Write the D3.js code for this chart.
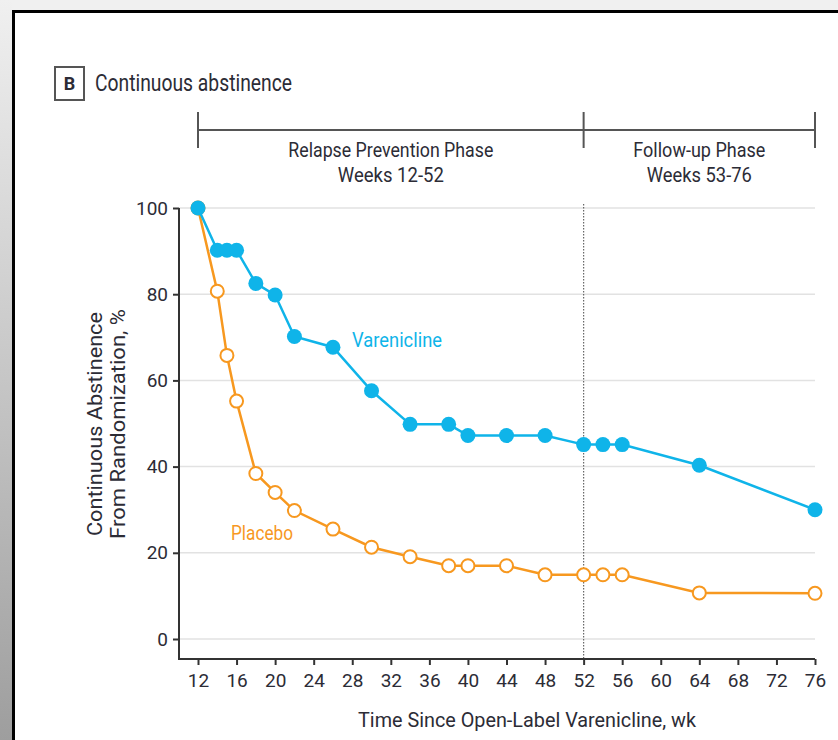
<!DOCTYPE html>
<html>
<head>
<meta charset="utf-8">
<script src="https://cdn.jsdelivr.net/npm/d3@7"></script>
<style>
  html, body { margin: 0; padding: 0; background: #fff; }
  svg { display: block; }
  text { font-family: Roboto, "Liberation Sans", sans-serif; fill: #2c2c36; }
</style>
</head>
<body>
<svg id="chart" width="838" height="740"></svg>
<script>
// Weeks since open-label varenicline
const weeks = [12, 14, 15, 16, 18, 20, 22, 26, 30, 34, 38, 40, 44, 48, 52, 54, 56, 64, 76];
// Continuous abstinence from randomization, %
const vareniclineValues = [100, 90.2, 90.2, 90.2, 82.5, 79.8, 70.2, 67.7, 57.6, 49.8, 49.8, 47.2, 47.2, 47.2, 45.1, 45.1, 45.1, 40.3, 30];
const placeboValues = [100, 80.7, 65.8, 55.2, 38.4, 34, 29.8, 25.5, 21.3, 19.1, 17, 17, 17, 14.9, 14.9, 14.9, 14.9, 10.7, 10.6];
const xTicks = [12, 16, 20, 24, 28, 32, 36, 40, 44, 48, 52, 56, 60, 64, 68, 72, 76];
const yTicks = [0, 20, 40, 60, 80, 100];
const phases = [
  { start: 12, end: 52, name: "Relapse Prevention Phase", weeks: "Weeks 12-52", nameLen: 205, weeksLen: 106 },
  { start: 52, end: 76, name: "Follow-up Phase", weeks: "Weeks 53-76", nameLen: 132, weeksLen: 105 }
];

const BLUE = "#0fb4e9";
const ORANGE = "#f7981f";

const svg = d3.select("#chart");
const W = 838, H = 740;

// Condensed text: squeeze a label into a given width
function fit(sel, len) {
  return sel.attr("textLength", len).attr("lengthAdjust", "spacingAndGlyphs");
}

// Page frame
const defs = svg.append("defs");
const grad = defs.append("linearGradient").attr("id", "edge").attr("x1", 0).attr("y1", 0).attr("x2", 0).attr("y2", 1);
grad.append("stop").attr("offset", "0%").attr("stop-color", "#f0f0f0");
grad.append("stop").attr("offset", "100%").attr("stop-color", "#9e9e9e");
svg.append("rect").attr("x", 0).attr("y", 0).attr("width", W).attr("height", 10).attr("fill", "#f0f0f0");
svg.append("rect").attr("x", 0).attr("y", 0).attr("width", 12).attr("height", H).attr("fill", "url(#edge)");
svg.append("line").attr("x1", 12).attr("x2", W).attr("y1", 11.5).attr("y2", 11.5).attr("stroke", "#000").attr("stroke-width", 3);
svg.append("line").attr("x1", 13.5).attr("x2", 13.5).attr("y1", 10).attr("y2", H).attr("stroke", "#000").attr("stroke-width", 3);

// Panel title
svg.append("rect").attr("x", 55).attr("y", 67).attr("width", 29).attr("height", 33)
  .attr("fill", "#fff").attr("stroke", "#555").attr("stroke-width", 2);
svg.append("text").attr("x", 69.5).attr("y", 90).attr("text-anchor", "middle")
  .attr("font-size", 18).attr("font-weight", "bold").text("B");
fit(svg.append("text").attr("x", 95).attr("y", 91).attr("font-size", 23).text("Continuous abstinence"), 197);

// Scales
const x = d3.scaleLinear().domain([12, 76]).range([198, 815]);
const y = d3.scaleLinear().domain([0, 100]).range([639, 208]);
const axisY = 659, axisX = 179;

// Gridlines
svg.append("g").selectAll("line").data(yTicks).join("line")
  .attr("x1", axisX).attr("x2", x(76))
  .attr("y1", d => y(d)).attr("y2", d => y(d))
  .attr("stroke", "#e2e2e2").attr("stroke-width", 1.5);

// Phase boundary
svg.append("line").attr("x1", x(52)).attr("x2", x(52)).attr("y1", y(100) - 4).attr("y2", axisY)
  .attr("stroke", "#666").attr("stroke-width", 1.2).attr("stroke-dasharray", "1.5,1.5");

// Phase bracket
const bracketY = 130;
svg.append("line").attr("x1", x(12)).attr("x2", x(76)).attr("y1", bracketY).attr("y2", bracketY)
  .attr("stroke", "#555").attr("stroke-width", 2);
const bounds = [12, 52, 76];
svg.append("g").selectAll("line").data(bounds).join("line")
  .attr("x1", d => x(d)).attr("x2", d => x(d)).attr("y1", 112).attr("y2", 148)
  .attr("stroke", "#555").attr("stroke-width", 2);
phases.forEach(p => {
  const cx = (x(p.start) + x(p.end)) / 2;
  fit(svg.append("text").attr("x", cx).attr("y", 157).attr("text-anchor", "middle").attr("font-size", 20).text(p.name), p.nameLen);
  fit(svg.append("text").attr("x", cx).attr("y", 182).attr("text-anchor", "middle").attr("font-size", 20).text(p.weeks), p.weeksLen);
});

// Axes
const yAxis = d3.axisLeft(y).tickValues(yTicks).tickSize(6).tickPadding(5);
const gy = svg.append("g").attr("transform", `translate(${axisX},0)`).call(yAxis);
gy.select(".domain").remove();
const xAxis = d3.axisBottom(x).tickValues(xTicks).tickSize(6).tickPadding(9);
const gx = svg.append("g").attr("transform", `translate(0,${axisY})`).call(xAxis);
gx.select(".domain").remove();
[gx, gy].forEach(g => {
  g.selectAll(".tick line").attr("stroke", "#333").attr("stroke-width", 2);
  g.selectAll(".tick text").attr("font-size", 19).attr("fill", "#2c2c36")
    .attr("font-family", "Roboto, \"Liberation Sans\", sans-serif");
});
svg.append("path").attr("d", `M${axisX},${y(100)}V${axisY}H${x(76)}`)
  .attr("fill", "none").attr("stroke", "#333").attr("stroke-width", 2);

// Axis titles
fit(svg.append("text").attr("x", 527).attr("y", 727).attr("text-anchor", "middle").attr("font-size", 21)
  .text("Time Since Open-Label Varenicline, wk"), 338);
const yt = svg.append("g").attr("transform", `translate(0,424) rotate(-90)`);
fit(yt.append("text").attr("x", 0).attr("y", 102).attr("text-anchor", "middle").attr("font-size", 21).text("Continuous Abstinence"), 224);
fit(yt.append("text").attr("x", 0).attr("y", 125).attr("text-anchor", "middle").attr("font-size", 21).text("From Randomization, %"), 230);

// Series
const line = d3.line().x(d => x(d[0])).y(d => y(d[1]));
const placebo = weeks.map((w, i) => [w, placeboValues[i]]);
const varenicline = weeks.map((w, i) => [w, vareniclineValues[i]]);

svg.append("path").datum(placebo).attr("d", line).attr("fill", "none").attr("stroke", ORANGE).attr("stroke-width", 2.5);
svg.append("g").selectAll("circle").data(placebo).join("circle")
  .attr("cx", d => x(d[0])).attr("cy", d => y(d[1])).attr("r", 6.5)
  .attr("fill", "#fff").attr("stroke", ORANGE).attr("stroke-width", 2);

svg.append("path").datum(varenicline).attr("d", line).attr("fill", "none").attr("stroke", BLUE).attr("stroke-width", 2.5);
svg.append("g").selectAll("circle").data(varenicline).join("circle")
  .attr("cx", d => x(d[0])).attr("cy", d => y(d[1])).attr("r", 7.5)
  .attr("fill", BLUE);

// Series labels
fit(svg.append("text").attr("x", 352).attr("y", 347).attr("font-size", 20).style("fill", BLUE).text("Varenicline"), 90);
fit(svg.append("text").attr("x", 231).attr("y", 540).attr("font-size", 20).style("fill", ORANGE).text("Placebo"), 62);
</script>
</body>
</html>
